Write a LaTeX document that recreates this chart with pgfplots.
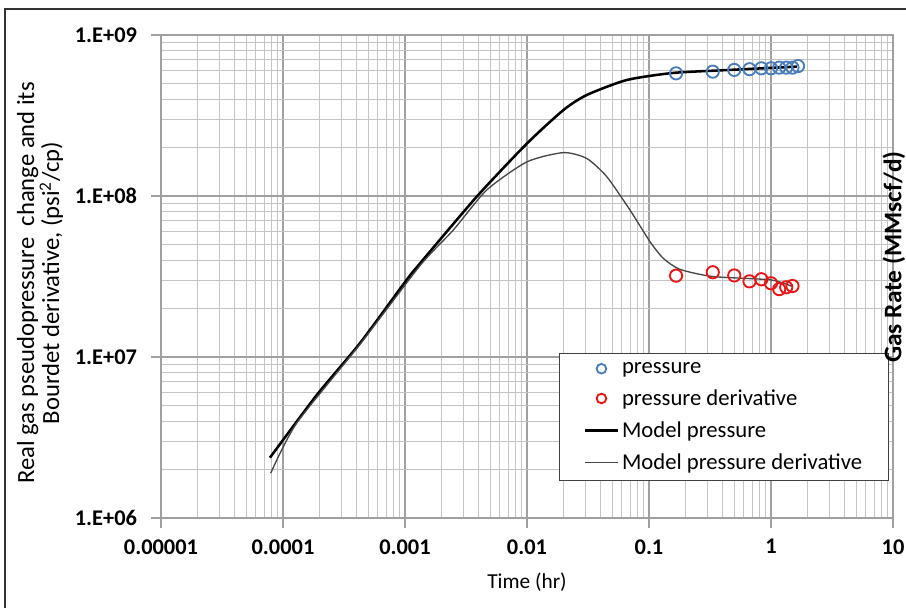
\documentclass[border=0pt]{standalone}
\usepackage{fontspec}
\setmainfont{Carlito}
\usepackage{pgfplots}
\pgfplotsset{compat=1.18}
\definecolor{bluem}{RGB}{74,126,187}
\definecolor{redm}{RGB}{232,22,22}
\definecolor{majg}{RGB}{160,160,160}
\definecolor{ming}{RGB}{196,196,196}
\definecolor{derc}{RGB}{70,70,70}
\pgfplotsset{
  lineleg/.style={legend image code/.code={\draw[##1] (0pt,0pt) -- (25pt,0pt);}},
  markleg/.style={legend image code/.code={\draw[##1,mark size=3.6pt] plot coordinates {(12.5pt,0pt)};}},
}

\begin{document}
\begin{tikzpicture}[x=0.75pt,y=0.75pt]
\useasboundingbox (0,0) rectangle (906,608);
\draw[line width=1.6pt, black!80] (5,0) -- (5,599) -- (906,599);
\begin{axis}[
  at={(120.75pt,67.5pt)}, anchor=south west,
  scale only axis, width=549pt, height=362.25pt,
  xmode=log, ymode=log,
  xmin=1e-5, xmax=10, ymin=1e6, ymax=1e9,
  xtick={1e-5,1e-4,1e-3,1e-2,1e-1,1,10},
  xticklabels={0.00001,0.0001,0.001,0.01,0.1,1,10},
  ytick={1e6,1e7,1e8,1e9},
  yticklabels={1.E+06,1.E+07,1.E+08,1.E+09},
  grid=both,
  major grid style={majg, line width=0.9pt},
  minor grid style={ming, line width=0.7pt},
  axis line style={majg, line width=0.9pt},
  tick align=outside,
  xtick pos=bottom, ytick pos=left,
  major tick length=7.5pt, minor tick length=0pt,
  tick style={majg, line width=0.9pt},
  xticklabel style={font=\fontsize{16.8}{19}\selectfont\bfseries, yshift=-5pt},
  yticklabel style={font=\fontsize{16.8}{19}\selectfont\bfseries, xshift=-7pt},
  legend style={at={(0.5437,0.3416)}, anchor=north west, draw=black!75,
    line width=0.8pt, font=\fontsize{17}{19}\selectfont,
    inner xsep=18pt, inner ysep=4.5pt, row sep=6.8pt, fill=white},
  legend cell align=left,
]
\addplot[only marks, mark=o, mark size=4.6pt, bluem, line width=1.4pt, markleg]
 coordinates {
 (0.1667,5.78e8) (0.3333,5.92e8) (0.5,6.07e8) (0.6667,6.13e8) (0.8333,6.21e8)
 (1.0,6.21e8) (1.1667,6.27e8) (1.3333,6.27e8) (1.5,6.27e8) (1.6667,6.41e8)};
\addlegendentry{pressure}
\addplot[only marks, mark=o, mark size=4.6pt, redm, line width=1.4pt, markleg]
 coordinates {
 (0.1667,3.20e7) (0.3333,3.36e7) (0.5,3.21e7) (0.6667,2.95e7) (0.8333,3.04e7)
 (1.0,2.87e7) (1.1667,2.64e7) (1.3333,2.71e7) (1.5,2.76e7)};
\addlegendentry{pressure derivative}
\addplot[black, line width=1.9pt, smooth, tension=0.4, lineleg]
 coordinates {
 (7.82e-5,2.37e6) (1.89e-4,5.8e6) (4.28e-4,1.22e7) (1.03e-3,3.01e7)
 (1.33e-3,3.82e7) (3.87e-3,9.9e7) (0.01,2.12e8) (0.0199,3.42e8)
 (0.0309,4.24e8) (0.0656,5.25e8) (0.157,5.81e8) (0.461,6.07e8) (1.63,6.36e8)};
\addlegendentry{Model pressure}
\addplot[derc, line width=1.0pt, smooth, tension=0.4, lineleg]
 coordinates {
 (7.93e-5,1.9e6) (1.29e-4,3.87e6) (4.28e-4,1.2e7) (1.33e-3,3.7e7)
 (2.49e-3,6.15e7) (4.68e-3,1.09e8) (0.01,1.63e8) (0.0199,1.86e8)
 (0.0309,1.71e8) (0.045,1.32e8) (0.0698,8.19e7) (0.102,5.2e7)
 (0.131,4.1e7) (0.18,3.5e7) (0.335,3.16e7) (1.0,3.01e7) (1.51,2.73e7)};
\addlegendentry{Model pressure derivative}
\end{axis}
\node[rotate=90, align=center, font=\fontsize{18.5}{16.5}\selectfont] at (40,325)
  {Real gas pseudopressure\ \ change and its\\Bourdet derivative, (psi\textsuperscript{2}/cp)};
\node[font=\fontsize{16}{18}\selectfont] at (527,26) {Time (hr)};
\node[rotate=90, anchor=west, inner sep=0pt, font=\fontsize{19}{21}\selectfont\bfseries] at (894,245) {Gas Rate (MMscf/d)};
\end{tikzpicture}
\end{document}
